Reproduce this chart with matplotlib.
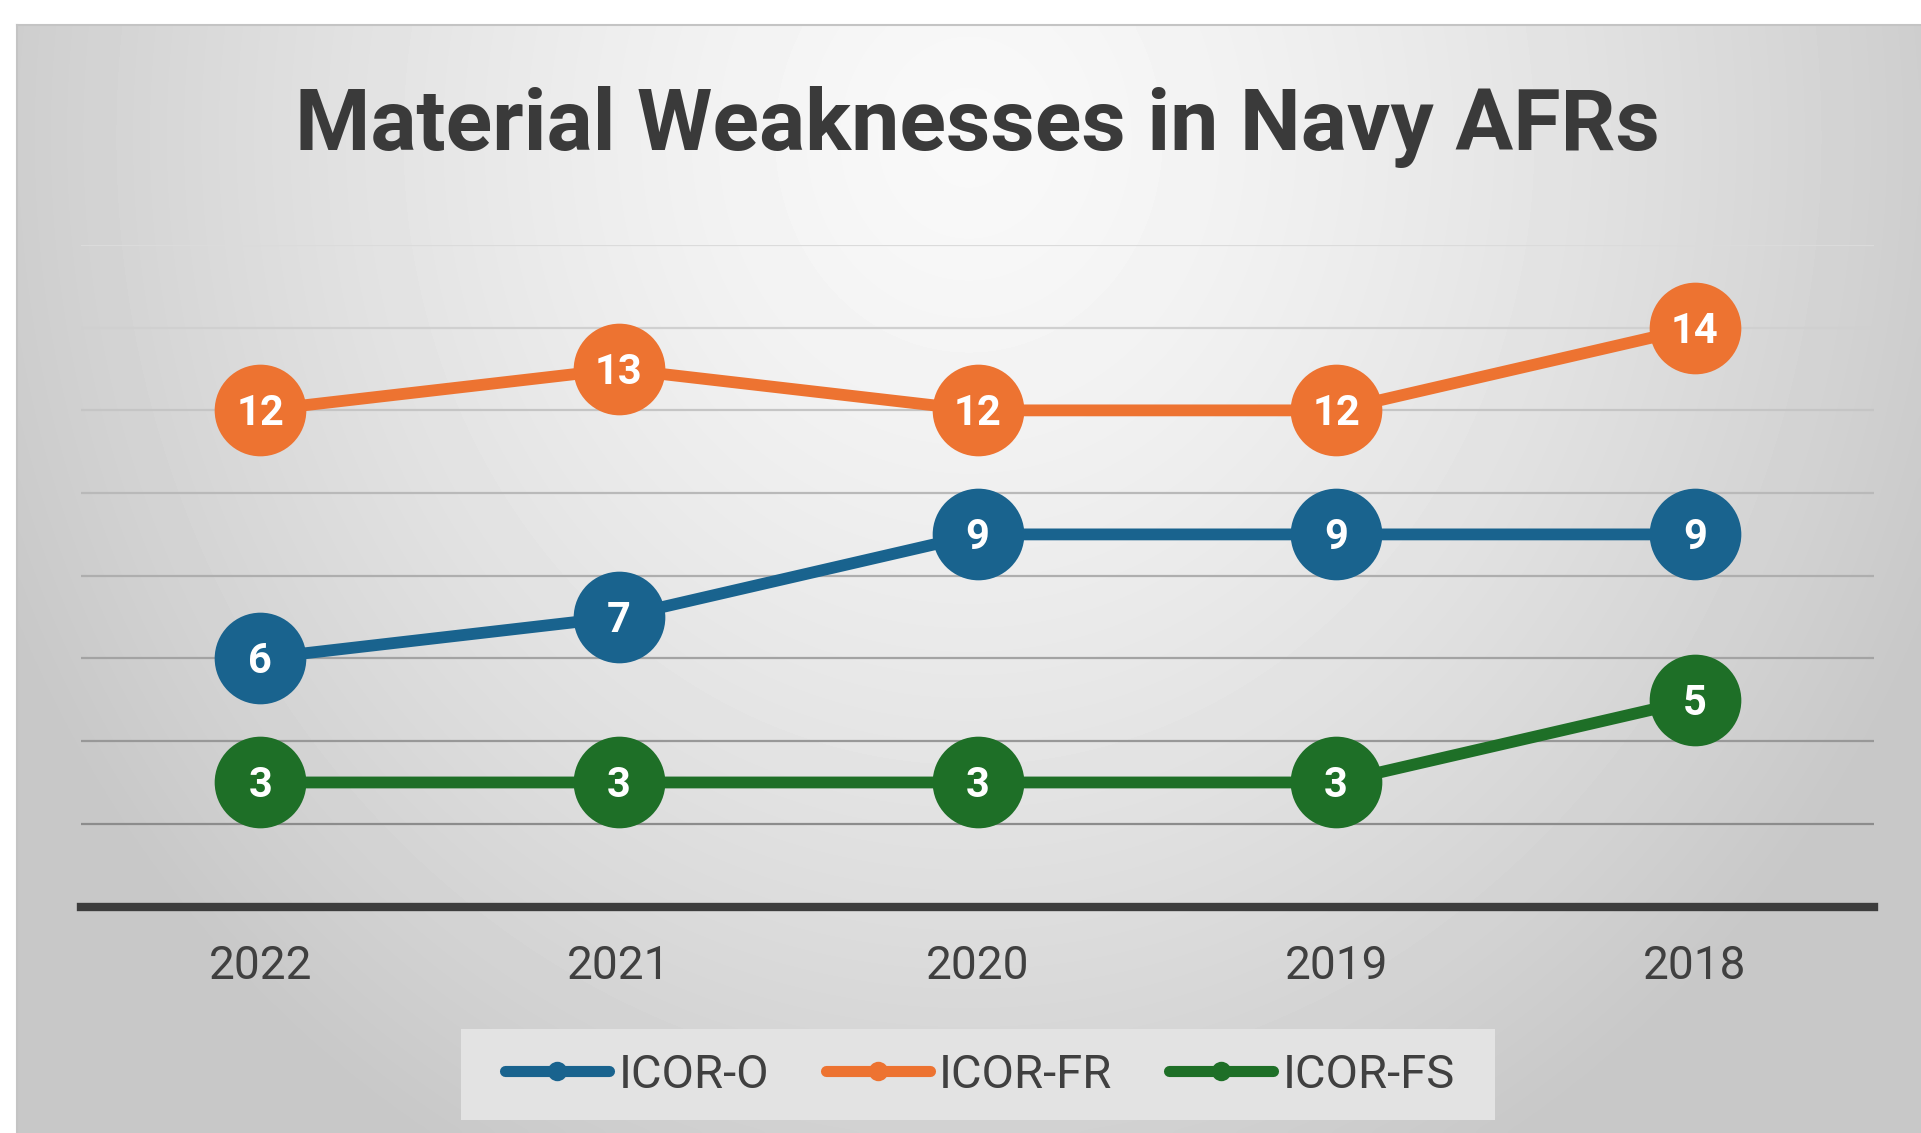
import numpy as np
import matplotlib
matplotlib.use("Agg")
from matplotlib import pyplot as plt
from matplotlib import transforms
from matplotlib.patches import Rectangle

years = ["2022", "2021", "2020", "2019", "2018"]
icor_o = [6, 7, 9, 9, 9]
icor_fr = [12, 13, 12, 12, 14]
icor_fs = [3, 3, 3, 3, 5]

series = [
    ("ICOR-O", icor_o, "#19638e"),
    ("ICOR-FR", icor_fr, "#ed7331"),
    ("ICOR-FS", icor_fs, "#1e6f27"),
]

W, H = 1921, 1133
fig = plt.figure(figsize=(W / 100, H / 100), dpi=100, facecolor="white")

# background panel with a soft radial gradient
left_px, top_px = 17, 25
bg = fig.add_axes([left_px / W, 0, 1 - left_px / W, (H - top_px) / H])
gx, gy = np.meshgrid(np.linspace(0, 1, 400), np.linspace(0, 1, 240))
d = np.sqrt(((gx - 0.5) / 0.55) ** 2 + ((gy - 0.1) / 1.05) ** 2)
shade = 0.975 - 0.19 * np.clip(d, 0, 1) ** 1.4
bg.imshow(shade, cmap="gray", vmin=0, vmax=1, aspect="auto",
          extent=(0, 1, 1, 0), interpolation="bicubic")
bg.set_xlim(0, 1)
bg.set_ylim(1, 0)
bg.axis("off")
fig.add_artist(plt.Line2D([left_px / W, 1], [(H - top_px) / H] * 2,
                          transform=fig.transFigure, color="#c4c4c4", lw=1.5))
fig.add_artist(plt.Line2D([left_px / W] * 2, [0, (H - top_px) / H],
                          transform=fig.transFigure, color="#c4c4c4", lw=1.5))

ax = fig.add_axes([81 / W, 226.5 / H, (1874 - 81) / W, (906.5 - 245) / H])
ax.patch.set_alpha(0)
x = np.arange(len(years))
ax.set_xlim(-0.5, len(years) - 0.5)
ax.set_ylim(0, 16)

# gridlines get darker toward the bottom
grid_vals = list(range(2, 17, 2))
for g in grid_vals:
    t = (g - 2) / 14
    c = (1 - t) * 0.55 + t * 0.86
    ax.axhline(g, color=(c, c, c), lw=1.6, zorder=1)
ax.axhline(0, color="#3d3d3d", lw=6, zorder=2, clip_on=False)

lbl_shift = transforms.offset_copy(ax.transData, fig=fig, x=0, y=-2.5, units="points")
for name, vals, col in series:
    ax.plot(x, vals, color=col, lw=8.5, marker="o", markersize=66,
            markeredgewidth=0, label=name, zorder=3, solid_capstyle="butt")
    for xi, v in zip(x, vals):
        ax.text(xi, v, str(v), ha="center", va="center", color="white",
                fontsize=30, fontweight="bold", family="Roboto", zorder=4,
                transform=lbl_shift)

for s in ax.spines.values():
    s.set_visible(False)
ax.set_yticks([])
ax.set_xticks(x)
ax.set_xticklabels(years, fontsize=33, color="#404040", family="Roboto")
ax.tick_params(axis="x", length=0, pad=27)

fig.text(977 / W, 1 - 127 / H, "Material Weaknesses in Navy AFRs",
         ha="center", va="center", fontsize=62, fontweight="bold",
         color="#3a3a3a", family="Roboto")

# legend box
fig.add_artist(Rectangle((461 / W, (H - 1120) / H), (1495 - 461) / W, 91 / H,
                         transform=fig.transFigure, facecolor="#e3e3e3",
                         edgecolor="none", zorder=1))
handles = [plt.Line2D([], [], color=c, lw=8, marker="o", markersize=14,
                      markeredgewidth=0, solid_capstyle="round")
           for _, _, c in series]
leg = fig.legend(handles, [n for n, _, _ in series], loc="center",
                 bbox_to_anchor=(980 / W, 58.5 / H), ncol=3, frameon=False,
                 prop={"family": "Roboto", "size": 34},
                 handlelength=2.2, handletextpad=0.2, columnspacing=1.2,
                 borderpad=0.3)
leg.set_zorder(2)
for t in leg.get_texts():
    t.set_color("#404040")

fig.savefig("out.png", dpi=100, facecolor="white")
